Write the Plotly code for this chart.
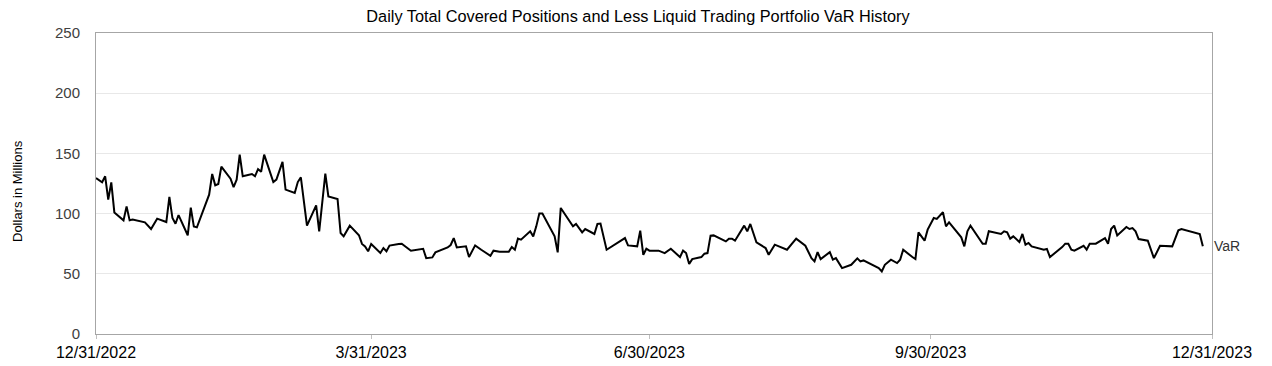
import pandas as pd
import plotly.graph_objects as go

# Days elapsed since 12/31/2022 for each vertex of the VaR line, and VaR in $ millions
day_offsets = [0, 2, 3, 4, 5, 6, 9, 10, 11, 12, 16, 18, 20, 23, 24, 25, 26, 27, 30, 31, 32, 33,
               37, 38, 39, 40, 41, 44, 45, 46, 47, 48, 51, 52, 53, 54, 55, 58, 59, 61, 62, 65,
               66, 67, 69, 72, 73, 75, 76, 79, 80, 81, 83, 86, 87, 88, 89, 90, 93, 94, 95, 96,
               99, 100, 103, 107, 108, 110, 111, 115, 116, 117, 118, 121, 122, 124, 126, 129,
               130, 132, 135, 136, 137, 138, 139, 142, 143, 144, 145, 146, 150, 151, 152, 156,
               157, 159, 160, 163, 164, 165, 167, 173, 174, 177, 178, 179, 180, 181, 184, 186,
               188, 191, 192, 193, 194, 195, 198, 199, 200, 201, 202, 206, 207, 208, 209, 212,
               213, 214, 216, 219, 220, 222, 226, 229, 232, 234, 235, 236, 237, 240, 241, 242,
               244, 247, 249, 250, 251, 256, 257, 258, 260, 262, 263, 264, 267, 268, 269, 271,
               272, 274, 275, 277, 278, 279, 283, 284, 285, 286, 290, 291, 292, 296, 297, 298,
               299, 300, 302, 303, 304, 305, 306, 310, 311, 312, 316, 317, 318, 319, 320, 323,
               324, 325, 327, 330, 331, 332, 333, 334, 337, 338, 339, 340, 341, 344, 346, 348,
               352, 354, 355, 361, 362]
var_musd = [129.6, 126, 131, 111.6, 126, 101, 94.4, 106, 94.4, 95, 92.7, 87.2, 95.8, 93, 113.8,
            96.3, 91.6, 98.8, 82, 105, 89.4, 88.6, 115.7, 132.9, 123.5, 124.6, 139, 129, 122,
            128.2, 149, 131, 132.9, 131, 137, 134.8, 149, 126.2, 128.2, 142.9, 119.9, 117.1,
            126.2, 130.1, 90, 106.9, 85.3, 133.2, 114.3, 112.1, 83.9, 81.1, 90, 82, 74.8, 72.8,
            68.7, 74.8, 67.3, 71.4, 68.7, 73.4, 74.8, 75, 69.2, 70.8, 63, 63.6, 67.8, 71.9,
            73.9, 79.7, 71.9, 72.8, 63.9, 73.6, 70, 65, 69.2, 68.3, 68.3, 72.2, 70, 79.2, 78.3,
            85.3, 81.1, 89.4, 100, 100, 81.1, 67.8, 104.7, 89.4, 91.4, 84.4, 87.2, 83.1, 91.4,
            91.7, 70, 79.7, 73.6, 72.8, 85.8, 65.8, 70.8, 69.2, 69.2, 67.2, 70.8, 63.9, 69.2,
            67.2, 58.1, 62.2, 63.9, 66.7, 67.2, 81.7, 81.9, 76.9, 79.2, 79.2, 77.5, 90, 85.3,
            91.4, 76.1, 71.4, 65.8, 74.2, 70, 79.2, 73.3, 63, 60.3, 68, 62.2, 68, 61.7, 63,
            54.7, 57.5, 62.8, 60.3, 61.1, 54.7, 51.9, 57.5, 61.7, 58.9, 61.7, 70, 63.9, 62.2,
            84.4, 77.5, 86.7, 96.4, 95.6, 101.1, 89.4, 92.8, 80.3, 72.8, 85.3, 90, 75, 75,
            85.3, 83.1, 85.3, 84.4, 79.2, 81.1, 76.4, 83.1, 74.2, 75.6, 72.8, 70, 70.6, 63.9,
            72.2, 75, 75, 70, 69.2, 73.3, 70, 75, 75, 79.7, 75, 87.2, 90, 81.9, 88.9, 87.2,
            88, 85.3, 78.9, 77.5, 63, 73.3, 72.8, 86.1, 87.2, 83.1, 72.8]

tick_dates = ["2022-12-31", "2023-03-31", "2023-06-30", "2023-09-30", "2023-12-31"]
tick_labels = ["12/31/2022", "3/31/2023", "6/30/2023", "9/30/2023", "12/31/2023"]
y_ticks = [0, 50, 100, 150, 200, 250]

FONT = "Liberation Sans, Arial, sans-serif"
W, H = 1272, 366
ML, MR, MT, MB = 96, 60, 33, 32

dates = pd.Timestamp("2022-12-31") + pd.to_timedelta(day_offsets, unit="D")

fig = go.Figure()
fig.add_trace(go.Scatter(x=dates, y=var_musd, mode="lines",
                         line=dict(color="black", width=2), name="VaR",
                         showlegend=False))

fig.add_annotation(x=dates[-1], y=var_musd[-1], text="VaR", showarrow=False,
                   xanchor="left", yanchor="middle", xshift=9,
                   font=dict(family=FONT, size=14, color="#333333"))

# y-axis title placed manually
fig.add_annotation(xref="paper", yref="paper", x=(17 - ML) / (W - ML - MR),
                   y=(H - MB - 191) / (H - MT - MB), text="Dollars in Millions",
                   textangle=-90, showarrow=False, xanchor="center", yanchor="middle",
                   font=dict(family=FONT, size=13, color="black"))

fig.update_layout(
    width=W, height=H,
    margin=dict(l=ML, r=MR, t=MT, b=MB, autoexpand=False),
    paper_bgcolor="white", plot_bgcolor="white",
    title=dict(text="Daily Total Covered Positions and Less Liquid Trading Portfolio VaR History",
               x=638 / W, xanchor="center", xref="container", y=1 - 16 / H, yanchor="middle",
               yref="container",
               font=dict(family=FONT, size=16.3, color="black")),
    xaxis=dict(type="date", range=["2022-12-31", "2023-12-31"],
               tickvals=tick_dates, ticktext=tick_labels, automargin=False,
               tickfont=dict(family=FONT, size=16, color="black"),
               showgrid=False, showline=True, linecolor="#a6a6a6", linewidth=1,
               mirror=True, ticks="outside", ticklen=4, tickcolor="#bfbfbf", zeroline=False),
    yaxis=dict(range=[0, 250], tickvals=y_ticks, automargin=False,
               tickfont=dict(family=FONT, size=15, color="#404040"),
               ticklabelstandoff=12,
               showgrid=True, gridcolor="#e8e8e8", gridwidth=1,
               showline=True, linecolor="#a6a6a6", linewidth=1, mirror=True,
               ticks="", zeroline=False),
)

fig.write_html("out.html", config={"displayModeBar": False},
               post_script="document.body.style.margin='0';")
